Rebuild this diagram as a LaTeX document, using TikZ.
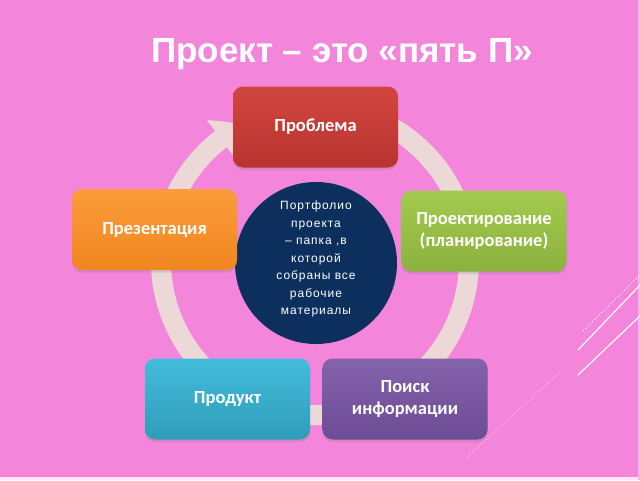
\documentclass[tikz,border=0pt]{standalone}
\usepackage{fontspec}
\setmainfont{Liberation Sans}
\newfontfamily\boxfont{Carlito}
\newfontfamily\circfont[LetterSpace=8]{Liberation Sans}
\usetikzlibrary{arrows.meta,bending,shadows}
\definecolor{bgpink}{HTML}{F385DB}
\definecolor{ringc}{HTML}{EDD8D8}
\definecolor{navy}{HTML}{0D2F5E}
\definecolor{redT}{HTML}{D24640}\definecolor{redB}{HTML}{B9332F}
\definecolor{grnT}{HTML}{A3C94F}\definecolor{grnB}{HTML}{8BB23D}
\definecolor{purT}{HTML}{8462AC}\definecolor{purB}{HTML}{6C4C95}
\definecolor{cyaT}{HTML}{43BCDC}\definecolor{cyaB}{HTML}{2F9DB9}
\definecolor{oraT}{HTML}{FB9C3B}\definecolor{oraB}{HTML}{F1861F}
\tikzset{
  pbox/.style={rounded corners=10pt, minimum width=165pt, minimum height=81pt,
    inner sep=0pt, align=center, text=white,
    font=\boxfont\bfseries\fontsize{18.5}{22}\selectfont,
    drop shadow={opacity=0.25, shadow xshift=0pt, shadow yshift=-2.5pt}},
  ringline/.style={line width=20pt, draw=ringc, -{Triangle[length=26pt,width=46pt,bend]}},
  decoline/.style={draw=white, line width=1.2pt},
}
\begin{document}
\begin{tikzpicture}[x=1pt,y=-1pt]
\fill[bgpink] (0,0) rectangle (640,480);
\useasboundingbox (0,0) rectangle (640,480);
\fill[white!80!bgpink] (0,477) rectangle (640,480);
\fill[white!40!bgpink] (638,0) rectangle (640,480);
% decorative lines
\coordinate (d1a) at (578,375); \coordinate (d1b) at (642,314);
\coordinate (d2a) at (578,350); \coordinate (d2b) at (642,283);
\coordinate (d3a) at (583,331); \coordinate (d3b) at (642,273);
\coordinate (d4a) at (467,457); \coordinate (d4b) at (560,372);
\draw[decoline] (d1a) -- (d1b);
\draw[decoline] (d2a) -- (d2b);
\draw[decoline, dotted, opacity=0.7] (d3a) -- (d3b);
\draw[decoline, dotted, opacity=0.5, line width=0.8pt] (d4a) -- (d4b);
% title
\node[anchor=base, text=white, font=\bfseries\fontsize{35}{40}\selectfont] (title) at (342,62) {Проект – это «пять П»};
% ring arrow
\coordinate (ringc) at (315,261);
\draw[ringline] (ringc) ++(-70:154) arc[start angle=-70, end angle=242, radius=154];
% central circle
\node[circle, fill=navy, minimum size=162pt, inner sep=0pt] (portf) at (316,263) {};
\node[align=center, text=white, font=\circfont\fontsize{12}{17.5}\selectfont] (ptext) at (316,259)
  {Портфолио\\проекта\\– папка ,в\\которой\\собраны все\\рабочие\\материалы};
% boxes
\node[pbox, top color=redT, bottom color=redB] (problem) at (315.5,127) {Проблема};
\node[pbox, top color=grnT, bottom color=grnB] (design) at (484,231) {Проектирование\\(планирование)};
\node[pbox, top color=purT, bottom color=purB] (search) at (405,399) {Поиск\\информации};
\node[pbox, top color=cyaT, bottom color=cyaB] (product) at (227.5,399) {Продукт};
\node[pbox, top color=oraT, bottom color=oraB] (present) at (154.5,229.5) {Презентация};
\end{tikzpicture}
\end{document}
